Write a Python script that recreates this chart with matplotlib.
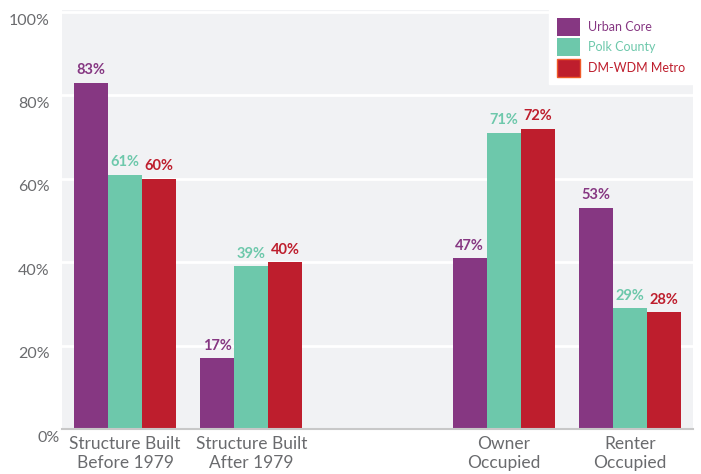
import matplotlib.pyplot as plt
import matplotlib.transforms as mtransforms
from matplotlib.patches import Patch

categories = ["Structure Built\nBefore 1979", "Structure Built\nAfter 1979", "",
              "Owner\nOccupied", "Renter\nOccupied"]
series_names = ["Urban Core", "Polk County", "DM-WDM Metro"]

# bar heights as drawn (%), None = empty slot
urban_core = [83, 17, None, 41, 53]
polk_county = [61, 39, None, 71, 29]
metro = [60, 40, None, 72, 28]

# labels as printed
urban_labels = ["83%", "17%", "", "47%", "53%"]
polk_labels = ["61%", "39%", "", "71%", "29%"]
metro_labels = ["60%", "40%", "", "72%", "28%"]

yticks = [0, 20, 40, 60, 80, 100]
ytick_labels = ["0%", "20%", "40%", "60%", "80%", "100%"]

colors = ["#863782", "#6dc8ab", "#be1e2d"]
text_gray = "#6a6b6e"

plt.rcParams["font.family"] = ["Lato", "DejaVu Sans"]

fig = plt.figure(figsize=(7.01, 4.74), dpi=100)
ax = fig.add_axes([62 / 701, 45 / 474, 631 / 701, 419 / 474])
ax.set_facecolor("#f1f2f4")

width = 0.27
offsets = [-width, 0, width]
all_values = [urban_core, polk_county, metro]
all_labels = [urban_labels, polk_labels, metro_labels]

for s in range(3):
    for i, v in enumerate(all_values[s]):
        if v is None:
            continue
        x = i + offsets[s]
        ax.bar(x, v, width=width, color=colors[s], zorder=3)
        ax.annotate(all_labels[s][i], (x, v), xytext=(0, 4),
                    textcoords="offset points", ha="center", va="bottom",
                    fontsize=10.5, fontweight="bold", color=colors[s], zorder=4)

ax.set_xlim(-0.5, 4.5)
ax.set_ylim(0, 100.5)

ax.set_yticks(yticks)
ax.set_yticklabels(ytick_labels, fontsize=11.5, color=text_gray)
ax.yaxis.grid(True, color="white", linewidth=2, zorder=1)
ax.set_axisbelow(True)
ax.tick_params(axis="y", length=0, pad=9)

down = mtransforms.ScaledTranslation(0, -7 / 100, fig.dpi_scale_trans)
for lbl in ax.get_yticklabels():
    lbl.set_transform(lbl.get_transform() + down)
zero = ax.get_yticklabels()[0]
zero.set_transform(zero.get_transform() + mtransforms.ScaledTranslation(10 / 100, 0, fig.dpi_scale_trans))

ax.set_xticks(range(len(categories)))
ax.set_xticklabels(categories, fontsize=12.5, color=text_gray, linespacing=1.2)
ax.tick_params(axis="x", length=0, pad=5)

for side in ["top", "right", "left"]:
    ax.spines[side].set_visible(False)
ax.spines["bottom"].set_color("#c8c8c8")
ax.spines["bottom"].set_linewidth(1.5)
ax.spines["bottom"].set_zorder(5)

handles = [Patch(facecolor=colors[0]), Patch(facecolor=colors[1]),
           Patch(facecolor=colors[2], edgecolor="#f05a28", linewidth=1)]
leg = ax.legend(handles, series_names, loc="upper right", bbox_to_anchor=(1, 1),
                borderaxespad=0, frameon=True, fancybox=False, fontsize=9,
                handlelength=1.9, handleheight=1.85, labelspacing=0.2,
                handletextpad=0.65, borderpad=0.6)
leg.get_frame().set_facecolor("white")
leg.get_frame().set_edgecolor("white")
leg.get_frame().set_alpha(1)
for t, c in zip(leg.get_texts(), colors):
    t.set_color(c)
leg.set_zorder(6)

fig.savefig("out.png", dpi=100)
